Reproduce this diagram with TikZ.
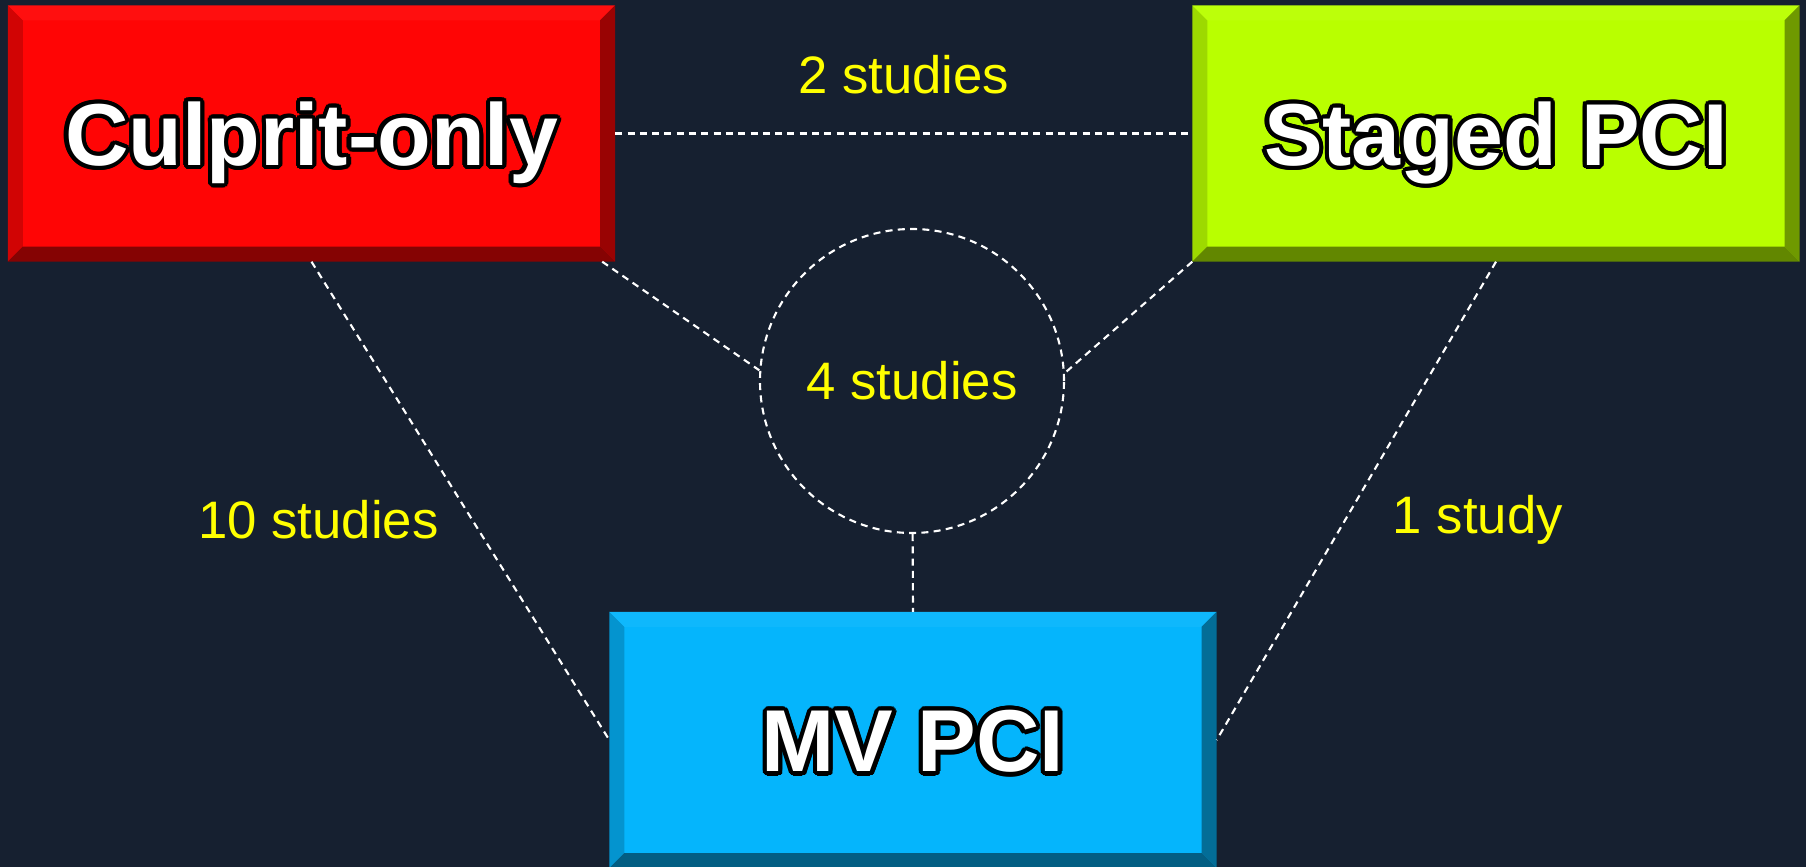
\documentclass[tikz,border=0pt]{standalone}
\usepackage{fontspec}
\setmainfont{Liberation Sans}
\usepackage[copies]{contour}
\usetikzlibrary{positioning}

\definecolor{bg}{HTML}{162030}
\definecolor{studyyellow}{HTML}{FFFF00}
\definecolor{culpritred}{HTML}{FF0505}
\definecolor{stagedgreen}{HTML}{B9FF00}
\definecolor{mvblue}{HTML}{05B5FC}

\contourlength{1.2pt}
\contournumber{20}

\begin{document}
\begin{tikzpicture}[
	box/.style={minimum width=6.06cm, minimum height=2.55cm, inner sep=0pt,
		text height=18.2pt, text depth=0pt,
		text=white, font=\bfseries\fontsize{25}{30}\selectfont},
	link/.style={draw=white, dash pattern=on 2pt off 1.5pt, line width=0.6pt},
	count/.style={text=studyyellow, font=\fontsize{15}{18}\selectfont}
]

\newcommand\bw{0.15};

% bevel: node, left, top, right, bottom
\newcommand\bevel[5]{
\fill[#2] (#1.north west) -- ([shift={(\bw,-\bw)}]#1.north west) -- ([shift={(\bw,\bw)}]#1.south west) -- (#1.south west) -- cycle;
\fill[#3] (#1.north west) -- (#1.north east) -- ([shift={(-\bw,-\bw)}]#1.north east) -- ([shift={(\bw,-\bw)}]#1.north west) -- cycle;
\fill[#4] (#1.north east) -- (#1.south east) -- ([shift={(-\bw,\bw)}]#1.south east) -- ([shift={(-\bw,-\bw)}]#1.north east) -- cycle;
\fill[#5] (#1.south west) -- ([shift={(\bw,\bw)}]#1.south west) -- ([shift={(-\bw,\bw)}]#1.south east) -- (#1.south east) -- cycle;
}

% Background
\fill[bg] (0,0) rectangle (18.06,-8.67);
\useasboundingbox (0,0) rectangle (18.06,-8.67);

% Culprit-only
\node [box,
	fill=culpritred
] (culprit) at (3.115, -1.335) {\contour{black}{Culprit-only}};
\bevel{culprit}{culpritred!82!black}{culpritred!96!white}{culpritred!60!black}{culpritred!52!black}

% Staged PCI
\node [box,
	fill=stagedgreen
] (staged) at (14.96, -1.335) {\contour{black}{Staged PCI}};
\bevel{staged}{stagedgreen!85!black}{stagedgreen!96!white}{stagedgreen!60!black}{stagedgreen!53!black}

% MV PCI
\node [box,
	fill=mvblue
] (mv) at (9.13, -7.40) {\contour{black}{MV PCI}};
\bevel{mv}{mvblue!82!black}{mvblue!96!white}{mvblue!60!black}{mvblue!52!black}

% Shared trials
\node [draw=white,
	dash pattern=on 2pt off 1.5pt,
	line width=0.6pt,
	circle,
	minimum size=3.04cm,
	count
] (shared) at (9.12, -3.81) {4 studies};

% Connectors with counts
\draw[link] (culprit.east) -- (staged.west) node[midway, above=0.27cm, count] {2 studies};
\draw[link] (culprit.south) -- (mv.west) node[pos=0.54, left=0.21cm, count] {10 studies};
\draw[link] (staged.south) -- (mv.east) node[pos=0.54, right=0.35cm, count] {1 study};

\draw[link] ([xshift=-0.13cm]culprit.south east) -- (shared.176);
\draw[link] (staged.south west) -- (shared.3);
\draw[link] (shared) -- (mv.north);

\end{tikzpicture}
\end{document}
